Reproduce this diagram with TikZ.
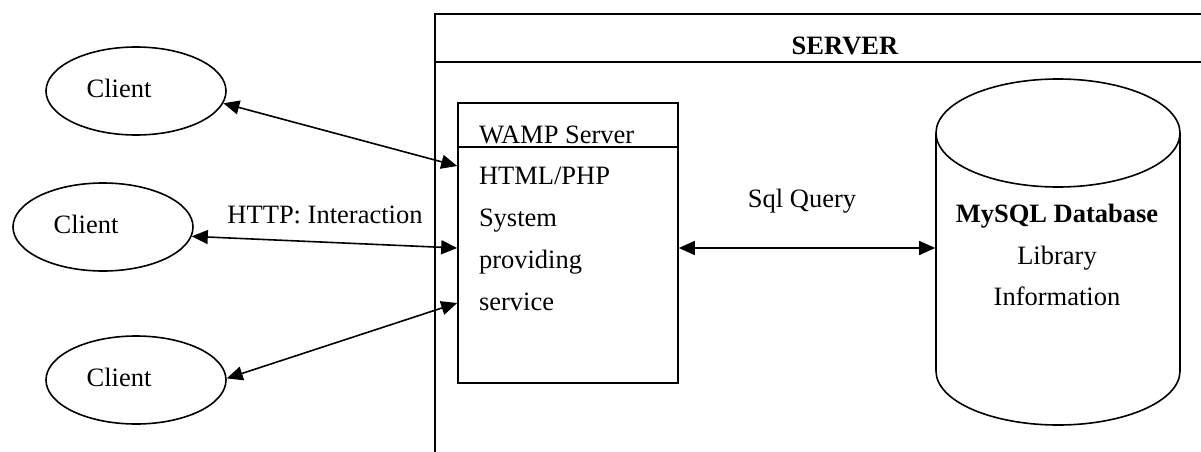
\documentclass[tikz,border=0pt]{standalone}
\usepackage{fontspec}
\setmainfont{Liberation Serif}
\usetikzlibrary{arrows.meta,shapes.geometric}
\begin{document}
\begin{tikzpicture}[x=1pt,y=-1pt,line width=1.6pt,
  txt/.style={font=\fontsize{26.5}{42}\selectfont,inner sep=0pt,outer sep=0pt},
  client/.style={draw,ellipse,minimum width=180pt,minimum height=88pt,inner sep=0pt},
  wampbox/.style={draw,minimum width=220pt,minimum height=280pt,inner sep=0pt},
  dbarea/.style={minimum width=244pt,minimum height=346pt,inner sep=0pt},
  biarrow/.style={{Triangle[length=16pt,width=14pt]}-{Triangle[length=16pt,width=14pt]},line width=1.6pt}]
\useasboundingbox (0,0) rectangle (1201,452);

% server frame
\draw (1201,14) -- (435,14) -- (435,452);
\draw (435,62) -- (1201,62);
\node[txt,anchor=base,font=\fontsize{26.5}{42}\selectfont\bfseries] (srv) at (845,55) {SERVER};

% clients
\node[client] (c1) at (136,91) {};
\node[client] (c2) at (103,227) {};
\node[client] (c3) at (136,380) {};
\node[txt,anchor=base] (t1) at (119,97) {Client};
\node[txt,anchor=base] (t2) at (86,233) {Client};
\node[txt,anchor=base] (t3) at (119,386) {Client};

% WAMP box
\node[wampbox] (wamp) at (568,243) {};
\coordinate (dv) at (0,147);
\draw (wamp.west |- dv) -- (wamp.east |- dv);
\node[txt,anchor=base west] (w0) at (479,143) {WAMP Server};
\node[txt,anchor=base west] (w1) at (479,184) {HTML/PHP};
\node[txt,anchor=base west] (w2) at (479,226) {System};
\node[txt,anchor=base west] (w3) at (479,268) {providing};
\node[txt,anchor=base west] (w4) at (479,310) {service};

% database cylinder
\node[dbarea] (db) at (1058,252) {};
\draw (936,133) -- (936,371) arc[start angle=180,end angle=360,x radius=122pt,y radius=54pt] -- (1180,133);
\draw (1058,133) ellipse[x radius=122pt,y radius=54pt];
\node[txt,anchor=base,font=\fontsize{26.5}{42}\selectfont\bfseries] (d1) at (1057,222) {MySQL Database};
\node[txt,anchor=base] (d2) at (1057,264) {Library};
\node[txt,anchor=base] (d3) at (1057,305) {Information};

% connectors
\coordinate (y1) at (0,166);
\coordinate (y2) at (0,248);
\coordinate (y3) at (0,303);
\draw[biarrow] (c1.-8) -- (wamp.west |- y1);
\draw[biarrow] (c2.-6) -- (wamp.west |- y2);
\draw[biarrow] (c3.1) -- (wamp.west |- y3);
\draw[biarrow] (wamp.east |- y2) -- (db.west |- y2);

% labels
\node[txt,anchor=base] (http) at (325,223) {HTTP: Interaction};
\node[txt,anchor=base] (sql) at (802,207) {Sql Query};
\end{tikzpicture}
\end{document}
